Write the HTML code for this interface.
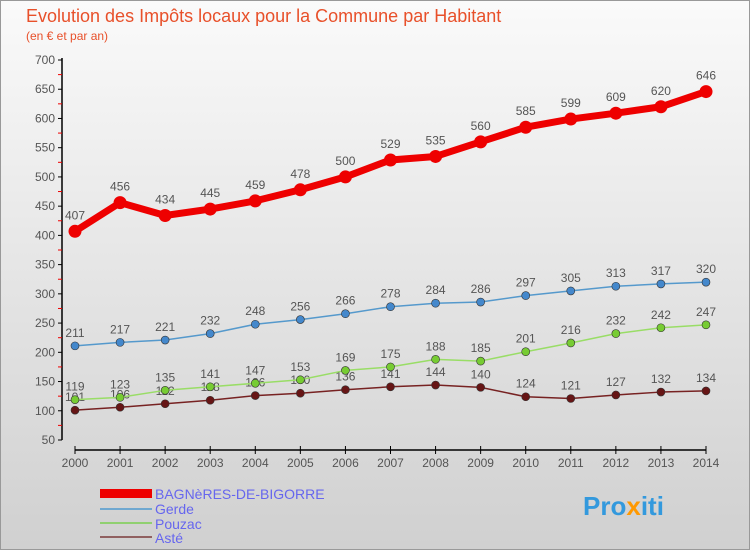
<!DOCTYPE html>
<html><head><meta charset="utf-8"><style>
body{margin:0;width:750px;height:550px;overflow:hidden;font-family:"Liberation Sans",sans-serif}
#c{position:absolute;left:0;top:0;width:748px;height:548px;border:1px solid #999;background:linear-gradient(#fafafa,#d0d0d0)}
</style></head><body>
<div id="c"></div>
<svg id="s" width="750" height="550" style="position:absolute;left:0;top:0">
<text x="26" y="22" font-size="18" fill="#e8502a">Evolution des Impôts locaux pour la Commune par Habitant</text>
<text x="26" y="40" font-size="12" fill="#e8502a">(en € et par an)</text>
<g id="legend">
<rect x="100" y="489" width="52" height="9" fill="#ee0000"/>
<text x="155" y="499" font-size="14" fill="#6666ee">BAGNèRES-DE-BIGORRE</text>
<rect x="100" y="508" width="52" height="2" fill="#6fa8d0"/>
<text x="155" y="514" font-size="14" fill="#6666ee">Gerde</text>
<rect x="100" y="522" width="52" height="2" fill="#90d070"/>
<text x="155" y="529" font-size="14" fill="#6666ee">Pouzac</text>
<rect x="100" y="536" width="52" height="2" fill="#906060"/>
<text x="155" y="543" font-size="14" fill="#6666ee">Asté</text>
</g>
<text x="583" y="515" font-size="26" font-weight="bold" fill="#3399dd">Pro<tspan fill="#ff9900">x</tspan>iti</text>
</svg>
<script>
const years=[2000,2001,2002,2003,2004,2005,2006,2007,2008,2009,2010,2011,2012,2013,2014];
const bagneres=[407,456,434,445,459,478,500,529,535,560,585,599,609,620,646];
const gerde=[211,217,221,232,248,256,266,278,284,286,297,305,313,317,320];
const pouzac=[119,123,135,141,147,153,169,175,188,185,201,216,232,242,247];
const aste=[101,106,112,118,126,130,136,141,144,140,124,121,127,132,134];
const yTicks=[50,100,150,200,250,300,350,400,450,500,550,600,650,700];
const NS="http://www.w3.org/2000/svg",s=document.getElementById('s');
const X=i=>75+i*(706-75)/14, Y=v=>440-(v-50)*380/650;
function mk(t,a,p){const e=document.createElementNS(NS,t);for(const k in a)e.setAttribute(k,a[k]);(p||s).appendChild(e);return e;}
const ax=mk('g',{});


mk('line',{x1:62,y1:58,x2:62,y2:440,stroke:'#000','stroke-width':1.5},ax);
mk('line',{x1:75,y1:450,x2:706,y2:450,stroke:'#000','stroke-width':1.5},ax);
yTicks.forEach(v=>{
 mk('line',{x1:58,y1:Y(v),x2:62,y2:Y(v),stroke:'#000'},ax);
 if(v<700)mk('line',{x1:58,y1:Y(v+25),x2:62,y2:Y(v+25),stroke:'#e00'},ax);
 const t=mk('text',{x:55,y:Y(v)+4,'text-anchor':'end','font-size':12,fill:'#555'},ax);t.textContent=v;
 
 
});
years.forEach((y,i)=>{
 mk('line',{x1:X(i),y1:446,x2:X(i),y2:454,stroke:'#000'},ax);
 const t=mk('text',{x:X(i),y:467,'text-anchor':'middle','font-size':12,fill:'#555'},ax);t.textContent=y;
 
 
});
function series(name,data,col,w,r,dot,lab){
 const g=mk('g',{});
 
 
 mk('polyline',{points:data.map((v,i)=>X(i)+','+Y(v)).join(' '),fill:'none',stroke:col,'stroke-width':w,'stroke-linejoin':'round'},g);
 data.forEach((v,i)=>{
  const c=mk('circle',{cx:X(i),cy:Y(v),r:r,fill:dot,stroke:'#333','stroke-width':r>5?0:0.6},g);
  
  
  const t=mk('text',{x:X(i),y:Y(v)-lab,'text-anchor':'middle','font-size':12,fill:'#555'},g);t.textContent=v;
  
  
 });
}
series('aste',aste,'#772222',1.5,4,'#661515',9);
series('pouzac',pouzac,'#99dd66',1.5,4,'#77cc33',9);
series('gerde',gerde,'#5599cc',1.5,4,'#4488cc',9);
series('bagneres',bagneres,'#ee0000',7,6.5,'#ee0000',12);
</script>
</body></html>
